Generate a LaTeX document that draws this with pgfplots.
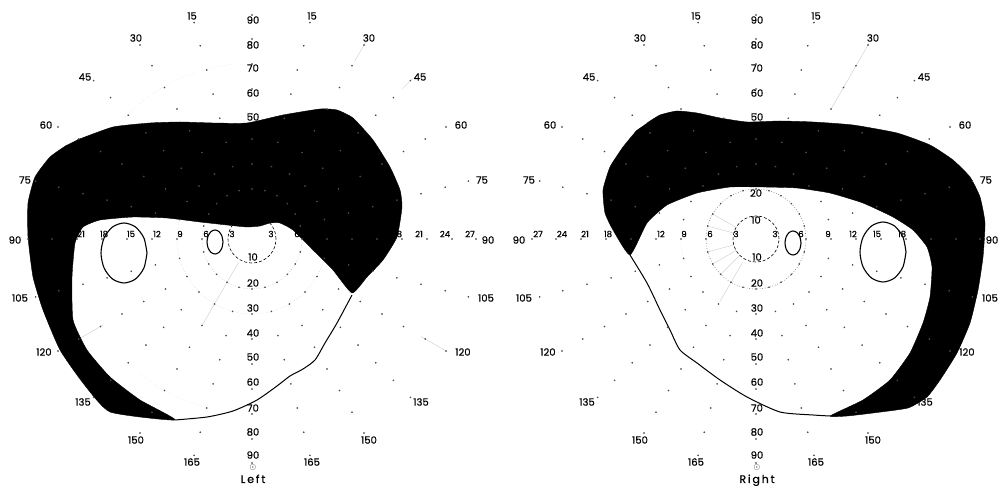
\documentclass[border=0pt]{standalone}
\usepackage{fontspec}
\setmainfont{Poppins}[FakeBold=0.6]
\usepackage{pgfplots}
\pgfplotsset{compat=1.18}
\usepackage{pgfplotstable}

% grid points of the chart: meridian angle and ring radius (px)
\pgfplotstableread{
a r2 r3 r4 r5 r6 r7 r8 r9
0 50 75 100 125 150 175 200 224
15 50 75 100 125 150 175 200 224
30 50 75 100 125 150 175 200 224
45 50 75 100 125 150 175 200 224
60 50 75 100 125 150 175 200 224
75 50 75 100 125 150 175 200 224
90 50 75 100 125 150 175 200 224
105 50 75 100 125 150 175 200 224
120 50 75 100 125 150 175 200 224
135 50 75 100 125 150 175 200 224
150 50 75 100 125 150 175 200 224
165 50 75 100 125 150 175 200 224
180 50 75 100 125 150 175 200 224
195 50 75 100 125 150 175 200 224
210 50 75 100 125 150 175 200 224
225 50 75 100 125 150 175 200 224
240 50 75 100 125 150 175 200 224
255 50 75 100 125 150 175 200 224
270 50 75 100 125 150 175 200 224
285 50 75 100 125 150 175 200 224
300 50 75 100 125 150 175 200 224
315 50 75 100 125 150 175 200 224
330 50 75 100 125 150 175 200 224
345 50 75 100 125 150 175 200 224
}\dotgrid

% left eye: lost field (image px)
\pgfplotstableread{
x y
77 140
113 127
150 123
180 122
213 123
247 123
283 115
320 109
337 110
353 118
373 140
390 167
400 190
402 207
397 237
383 260
367 277
352 293
333 270
313 250
293 230
280 223
270 223
260 226
247 227
227 225
200 222
167 218
133 217
100 220
83 227
75 243
72 277
73 320
87 350
110 377
140 400
175 420
110 412
83 383
60 350
43 310
33 277
28 237
28 203
35 177
50 157
67 145
}\bandL

\pgfplotstableread{
x y
175 420
207 417
233 411
257 400
277 386
290 376
303 369
315 360
325 343
337 323
352 295
}\edgeL

\pgfplotstableread{
x y
147 253
143.9 268
135.5 279
124 283
112.5 279
104.1 268
101 253
104.1 238
112.5 227
124 223
135.5 227
143.9 238
147 253
}\ellLa

\pgfplotstableread{
x y
223 242
221.9 248
219 252.4
215 254
211 252.4
208.1 248
207 242
208.1 236
211 231.6
215 230
219 231.6
221.9 236
223 242
}\ellLb

% right eye
\pgfplotstableread{
x y
647 123
660 115
677 111
697 113
720 118
747 122
780 121
813 122
853 125
897 133
930 145
953 160
970 177
980 197
985 223
983 257
978 290
970 323
957 353
940 380
927 397
908 408
873 413
847 416
830 416
863 400
890 380
910 353
923 323
930 297
932 267
927 247
913 230
893 217
863 203
830 193
797 188
763 187
730 187
697 193
667 205
647 223
630 255
613 230
605 213
603 190
610 167
623 147
637 130
}\bandR

\pgfplotstableread{
x y
630 255
647 283
660 310
670 330
680 350
697 363
720 380
747 397
780 412
813 415
830 416
}\edgeR

\pgfplotstableread{
x y
906 252
902.9 267
894.5 278
883 282
871.5 278
863.1 267
860 252
863.1 237
871.5 226
883 222
894.5 226
902.9 237
906 252
}\ellRa

\pgfplotstableread{
x y
801 243
799.9 249
797 253.4
793 255
789 253.4
786.1 249
785 243
786.1 237
789 232.6
793 231
797 232.6
799.9 237
801 243
}\ellRb

\tikzset{
  olab/.style={font=\fontsize{10}{10}\selectfont, inner sep=0pt},
  ilab/.style={font=\fontsize{8.5}{8.5}\selectfont, inner sep=0pt},
}
\pgfplotsset{
  field/.style={x=1pt, y=1pt, xmin=-252, xmax=252, ymin=-247, ymax=239,
    hide axis, clip=false, anchor=south west},
  dots/.style={only marks, mark=*, mark size=0.6pt, black!70, data cs=polar},
  faint/.style={black!22, line width=0.35pt, data cs=polar},
}

\newcommand{\outerlabels}{%
  \node[olab] at (axis cs:-60,223) {15};
  \node[olab] at (axis cs:60,223) {15};
  \node[olab] at (axis cs:-116,201) {30};
  \node[olab] at (axis cs:117,201) {30};
  \node[olab] at (axis cs:-167,162) {45};
  \node[olab] at (axis cs:168,162) {45};
  \node[olab] at (axis cs:-206,114) {60};
  \node[olab] at (axis cs:209,114) {60};
  \node[olab] at (axis cs:-227,59) {75};
  \node[olab] at (axis cs:230,59) {75};
  \node[olab] at (axis cs:-237,-1) {90};
  \node[olab] at (axis cs:236,-1) {90};
  \node[olab] at (axis cs:-232,-59) {105};
  \node[olab] at (axis cs:234,-59) {105};
  \node[olab] at (axis cs:-208,-113) {120};
  \node[olab] at (axis cs:211,-113) {120};
  \node[olab] at (axis cs:-169,-163) {135};
  \node[olab] at (axis cs:169,-163) {135};
  \node[olab] at (axis cs:-116,-201) {150};
  \node[olab] at (axis cs:117,-201) {150};
  \node[olab] at (axis cs:-60,-223) {165};
  \node[olab] at (axis cs:60,-223) {165};
  \node[olab] at (axis cs:1,219) {90};
  \node[olab] at (axis cs:1,194) {80};
  \node[olab] at (axis cs:1,171) {70};
  \node[olab] at (axis cs:1,146) {60};
  \node[olab] at (axis cs:1,122) {50};
  \node[olab] at (axis cs:1,-18) {10};
  \node[olab] at (axis cs:1,-44) {20};
  \node[olab] at (axis cs:1,-69) {30};
  \node[olab] at (axis cs:1,-94) {40};
  \node[olab] at (axis cs:1,-118) {50};
  \node[olab] at (axis cs:1,-143) {60};
  \node[olab] at (axis cs:1,-169) {70};
  \node[olab] at (axis cs:1,-193) {80};
  \node[olab] at (axis cs:1,-216) {90};
  \node[font=\fontsize{8}{8}\selectfont, inner sep=0pt] at (axis cs:1,-229) {$\odot$};
  \node[ilab] at (axis cs:-218,5) {27};
  \node[ilab] at (axis cs:-194,5) {24};
  \node[ilab] at (axis cs:-171,5) {21};
  \node[ilab] at (axis cs:-148,5) {18};
  \node[ilab] at (axis cs:-121,5) {15};
  \node[ilab] at (axis cs:-95,5) {12};
  \node[ilab] at (axis cs:-72,5) {9};
  \node[ilab] at (axis cs:-46,5) {6};
  \node[ilab] at (axis cs:-20,5) {3};
  \node[ilab] at (axis cs:19,5) {3};
  \node[ilab] at (axis cs:45,5) {6};
  \node[ilab] at (axis cs:72,5) {9};
  \node[ilab] at (axis cs:97,5) {12};
  \node[ilab] at (axis cs:121,5) {15};
  \node[ilab] at (axis cs:146,5) {18};
  \node[ilab] at (axis cs:167,5) {21};
  \node[ilab] at (axis cs:193,5) {24};
  \node[ilab] at (axis cs:218,5) {27};
}

\begin{document}
\begin{tikzpicture}
\useasboundingbox (0,0) rectangle (1008pt,486pt);

% ---------------- left eye ----------------
\begin{axis}[field, at={(0pt,0pt)}]
\addplot[faint] coordinates {(240,27) (240,100)};
\addplot[faint] coordinates {(60,205) (60,228)};
\addplot[faint] coordinates {(45,212) (45,228)};
\addplot[faint] coordinates {(330,195) (330,225)};
\addplot[faint] coordinates {(210,172) (210,198)};
\addplot[faint, dotted, smooth] coordinates {(96,176) (104,176) (112,176) (120,176) (128,176) (136,176) (142,176)};
\addplot[faint, dotted, smooth] coordinates {(230,175) (238,175) (246,175) (255,175)};
\addplot[black!40, dotted, line width=0.4pt, smooth, data cs=polar] coordinates {
  (0,50) (15,50) (30,50) (45,50) (60,50) (75,50) (90,50) (105,50) (120,50) (135,50) (150,50) (165,50)
  (180,50) (195,50) (210,50) (225,50) (240,50) (255,50) (270,50) (285,50) (300,50) (315,50) (330,50) (345,50) (360,50)};
\addplot[black!30, dotted, line width=0.4pt, smooth, data cs=polar] coordinates {
  (0,75) (15,75) (30,75) (45,75) (60,75) (75,75) (90,75) (105,75) (120,75) (135,75) (150,75) (165,75)
  (180,75) (195,75) (210,75) (225,75) (240,75) (255,75) (270,75) (285,75) (300,75) (315,75) (330,75) (345,75) (360,75)};
\pgfplotsinvokeforeach{2,...,9}{\addplot[dots] table[x=a, y=r#1] {\dotgrid};}
\addplot[black, densely dashed, line width=0.6pt, smooth, data cs=polar] coordinates {
  (0,24) (15,24) (30,24) (45,24) (60,24) (75,24) (90,24) (105,24) (120,24) (135,24) (150,24) (165,24)
  (180,24) (195,24) (210,24) (225,24) (240,24) (255,24) (270,24) (285,24) (300,24) (315,24) (330,24) (345,24) (360,24)};
\addplot[fill=black, draw=black, line width=0.4pt, smooth, tension=0.3]
  table[x expr=\thisrow{x}-252, y expr=239-\thisrow{y}] {\bandL};
\addplot[black, line width=1pt, smooth, tension=0.4]
  table[x expr=\thisrow{x}-252, y expr=239-\thisrow{y}] {\edgeL};
\addplot[black, line width=1.1pt, smooth]
  table[x expr=\thisrow{x}-252, y expr=239-\thisrow{y}] {\ellLa};
\addplot[black, line width=1.1pt, smooth]
  table[x expr=\thisrow{x}-252, y expr=239-\thisrow{y}] {\ellLb};
\outerlabels
\node[font=\fontsize{11}{11}\selectfont, inner sep=0pt, anchor=base] at (axis cs:1,-244) {L\,e\,f\,t};
\end{axis}

% ---------------- right eye ----------------
\begin{axis}[field, at={(504pt,0pt)}]
\addplot[faint] coordinates {(60,150) (60,226)};
\addplot[faint] coordinates {(240,27) (240,72)};
\addplot[faint] coordinates {(150,23) (150,50)};
\addplot[faint] coordinates {(165,23) (165,50)};
\addplot[faint] coordinates {(195,23) (195,50)};
\addplot[faint] coordinates {(210,23) (210,50)};
\addplot[faint] coordinates {(225,23) (225,50)};
\addplot[faint, dotted, smooth] coordinates {(160,75) (170,75) (180,75) (190,75) (200,75)};
\pgfplotsinvokeforeach{2,...,9}{\addplot[dots] table[x=a, y=r#1] {\dotgrid};}
\addplot[black!60, dotted, line width=0.6pt, smooth, data cs=polar] coordinates {
  (0,50) (15,50) (30,50) (45,50) (60,50) (75,50) (90,50) (105,50) (120,50) (135,50) (150,50) (165,50)
  (180,50) (195,50) (210,50) (225,50) (240,50) (255,50) (270,50) (285,50) (300,50) (315,50) (330,50) (345,50) (360,50)};
\addplot[black, densely dashed, line width=0.6pt, smooth, data cs=polar] coordinates {
  (0,23) (15,23) (30,23) (45,23) (60,23) (75,23) (90,23) (105,23) (120,23) (135,23) (150,23) (165,23)
  (180,23) (195,23) (210,23) (225,23) (240,23) (255,23) (270,23) (285,23) (300,23) (315,23) (330,23) (345,23) (360,23)};
\addplot[fill=black, draw=black, line width=0.4pt, smooth, tension=0.3]
  table[x expr=\thisrow{x}-756, y expr=239-\thisrow{y}] {\bandR};
\addplot[black, line width=1pt, smooth, tension=0.4]
  table[x expr=\thisrow{x}-756, y expr=239-\thisrow{y}] {\edgeR};
\addplot[black, line width=1.1pt, smooth]
  table[x expr=\thisrow{x}-756, y expr=239-\thisrow{y}] {\ellRa};
\addplot[black, line width=1.1pt, smooth]
  table[x expr=\thisrow{x}-756, y expr=239-\thisrow{y}] {\ellRb};
\outerlabels
\node[olab] at (axis cs:0,19) {10};
\node[olab] at (axis cs:0,46) {20};
\node[font=\fontsize{11}{11}\selectfont, inner sep=0pt, anchor=base] at (axis cs:1,-244) {R\,i\,g\,h\,t};
\end{axis}
\end{tikzpicture}
\end{document}
